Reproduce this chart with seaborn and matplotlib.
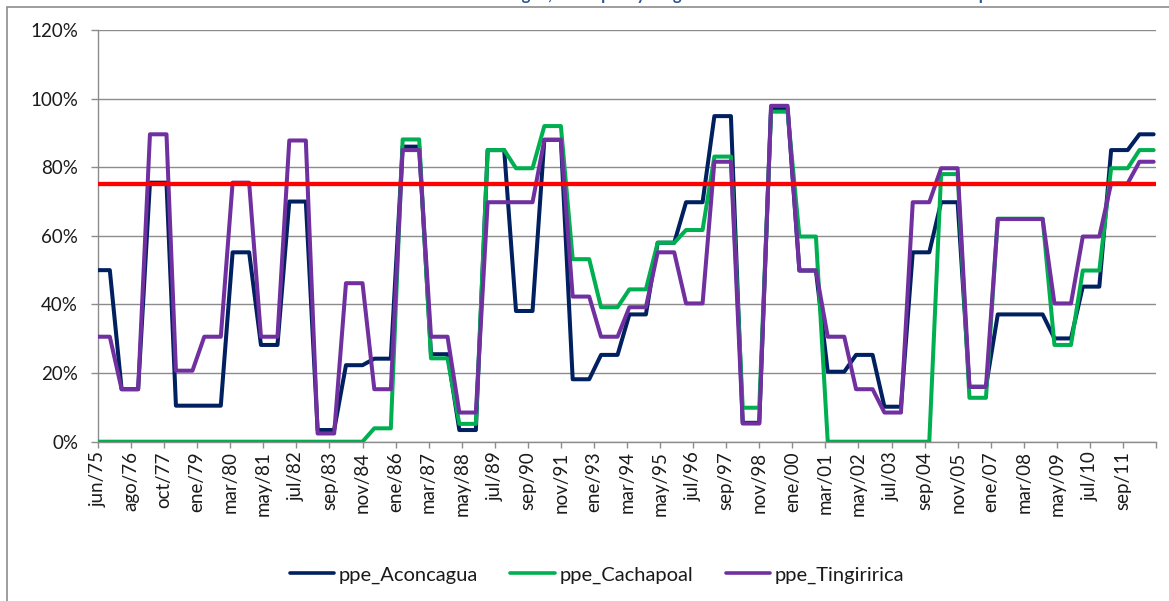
import matplotlib
matplotlib.use("Agg")
import matplotlib.pyplot as plt
import pandas as pd
import seaborn as sns
from matplotlib.patches import Rectangle
from matplotlib.ticker import PercentFormatter

# Temporadas de riego (abr-nov), una probabilidad de excedencia por año
anios = list(range(1975, 2013))
ppe_aconcagua = [0.500, 0.153, 0.755, 0.105, 0.105, 0.552, 0.282, 0.700, 0.034, 0.223,
                 0.242, 0.860, 0.255, 0.034, 0.850, 0.381, 0.880, 0.182, 0.253, 0.371,
                 0.580, 0.698, 0.949, 0.055, 0.970, 0.499, 0.204, 0.253, 0.102, 0.552,
                 0.698, 0.160, 0.371, 0.371, 0.301, 0.452, 0.850, 0.896]
ppe_cachapoal = [0.0, 0.0, 0.0, 0.0, 0.0, 0.0, 0.0, 0.0, 0.0, 0.0,
                 0.039, 0.881, 0.243, 0.052, 0.850, 0.797, 0.920, 0.532, 0.392, 0.444,
                 0.580, 0.617, 0.831, 0.099, 0.962, 0.598, 0.0, 0.0, 0.0, 0.0,
                 0.780, 0.128, 0.650, 0.650, 0.282, 0.499, 0.797, 0.850]
ppe_tingiririca = [0.306, 0.153, 0.896, 0.207, 0.306, 0.755, 0.306, 0.878, 0.024, 0.462,
                   0.153, 0.850, 0.306, 0.085, 0.698, 0.698, 0.880, 0.423, 0.306, 0.392,
                   0.552, 0.403, 0.816, 0.053, 0.979, 0.499, 0.306, 0.153, 0.085, 0.698,
                   0.797, 0.160, 0.649, 0.649, 0.403, 0.598, 0.753, 0.816]
umbral = 0.75

series = ["ppe_Aconcagua", "ppe_Cachapoal", "ppe_Tingiririca"]
valores = [ppe_aconcagua, ppe_cachapoal, ppe_tingiririca]
colores = ["#002060", "#00B050", "#7030A0"]

# Eje de categorías mensual (falta el registro de ene/78)
MESES = ["ene", "feb", "mar", "abr", "may", "jun", "jul", "ago", "sep", "oct", "nov", "dic"]
meses = pd.period_range("1975-06", "2012-10", freq="M")
meses = meses[meses != pd.Period("1978-01", freq="M")]
categorias = [f"{MESES[p.month - 1]}/{p.year % 100:02d}" for p in meses]
posicion = {p: i for i, p in enumerate(meses)}

filas = []
for nombre, vals in zip(series, valores):
    for anio, v in zip(anios, vals):
        ini = max(pd.Period(f"{anio}-04", freq="M"), meses[0])
        fin = min(pd.Period(f"{anio}-11", freq="M"), meses[-1])
        for p in (ini, fin):
            filas.append({"mes": posicion[p], "serie": nombre, "ppe": v})
df = pd.DataFrame(filas)

sns.set_theme(style="white")
plt.rcParams["font.family"] = ["Lato", "DejaVu Sans"]

W, H = 1169, 601
fig = plt.figure(figsize=(W / 100, H / 100), dpi=100)
x0, x1, y0, y1 = 98, 1156, 30, 441.7
ax = fig.add_axes([x0 / W, 1 - y1 / H, (x1 - x0) / W, (y1 - y0) / H])

gris = "#8C8C8C"
sns.lineplot(data=df, x="mes", y="ppe", hue="serie", hue_order=series,
             palette=colores, estimator=None, sort=False, linewidth=2.9,
             ax=ax, zorder=3)
ax.axhline(umbral, color="#FF0000", linewidth=3.1, zorder=5)

ax.set_xlim(0, len(categorias))
ax.set_ylim(0, 1.2)
ax.set_yticks([0, 0.2, 0.4, 0.6, 0.8, 1.0, 1.2])
ax.yaxis.set_major_formatter(PercentFormatter(1.0, decimals=0))

pos_ticks = list(range(0, len(categorias) + 1, 14))
ax.set_xticks(pos_ticks)
ax.set_xticklabels([categorias[i] if i < len(categorias) else "" for i in pos_ticks],
                   rotation=90)
ax.set_xlabel("")
ax.set_ylabel("")

ax.yaxis.grid(True, color=gris, linewidth=1.0, zorder=0)
ax.xaxis.grid(False)
for lado in ("top", "right"):
    ax.spines[lado].set_visible(False)
for lado in ("left", "bottom"):
    ax.spines[lado].set_color(gris)
    ax.spines[lado].set_linewidth(1.0)
ax.tick_params(axis="y", direction="out", length=4.8, width=1.0, color=gris,
               pad=9.5, labelsize=13.5, labelcolor="#1a1a1a", left=True)
ax.tick_params(axis="x", direction="out", length=4.0, width=1.0, color=gris,
               pad=3, labelsize=13.5, labelcolor="#1a1a1a", bottom=True)

handles, labels = ax.get_legend_handles_labels()
ax.get_legend().remove()
for h in handles:
    h.set_linewidth(2.6)
fig.legend(handles, labels, loc="center", bbox_to_anchor=(597 / W, 1 - 575 / H),
           ncol=3, frameon=False, fontsize=14.5, handlelength=2.2,
           handletextpad=0.25, columnspacing=1.6, labelcolor="#1a1a1a")

# Marco del área del gráfico
fig.add_artist(Rectangle((7 / W, -0.5), 2.0, 1.5 - 7 / H, transform=fig.transFigure,
                         fill=False, edgecolor=gris, linewidth=1.2))

fig.text(195 / W, 1.0, "Probabilidad de excedencia anual en Aconcagua, Cachapoal y "
         "Tinguiririca en relación al umbral del 75% de probabilidad",
         ha="left", va="baseline", fontsize=12, fontweight="bold", color="#2F5597")

fig.savefig("out.png", dpi=100)
